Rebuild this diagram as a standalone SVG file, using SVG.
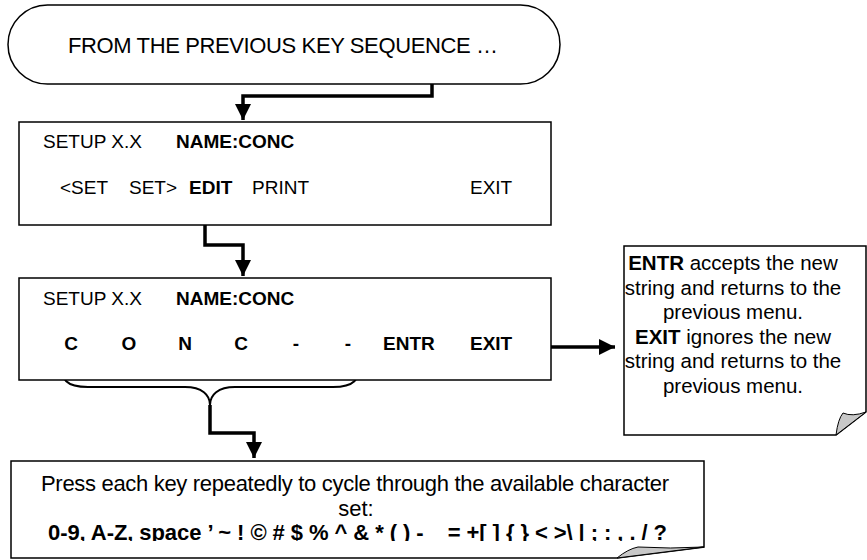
<svg xmlns="http://www.w3.org/2000/svg" width="867" height="560" viewBox="0 0 867 560">
<style>
.box{fill:#fff;stroke:#000;stroke-width:1.5}
.t{font-family:"Liberation Sans",Arial,sans-serif;font-size:19px;fill:#000}
.b{font-weight:bold}
.n{font-family:"Liberation Sans",Arial,sans-serif;font-size:20.5px;fill:#000;text-anchor:middle}
.w{font-family:"Liberation Sans",Arial,sans-serif;font-size:22px;fill:#000}
.c{fill:none;stroke:#000;stroke-width:3.5}
.curl{fill:#c8c8c8;stroke:#000;stroke-width:1}
</style>
<defs>
<marker id="ah" markerUnits="userSpaceOnUse" markerWidth="18" markerHeight="18" refX="16" refY="8" orient="auto">
<path d="M0,0 L16,8 L0,16 Z" fill="#000"/>
</marker>
<clipPath id="clipBottom"><rect x="11" y="461" width="693" height="80"/></clipPath>
</defs>
<rect width="867" height="560" fill="#fff"/>
<g id="connectors">
<path class="c" d="M432,65 V96 H243 V120" marker-end="url(#ah)"/>
<path class="c" d="M205,200 V245 H243 V276" marker-end="url(#ah)"/>
<path class="c" d="M535,347 H615" marker-end="url(#ah)"/>
<path fill="none" stroke="#000" stroke-width="2" d="M61,362 C61,380 66,387 88,387 H185 C202,387 210,395 210,405 C210,395 218,387 235,387 H333 C354,387 360,380 360,362"/>
<path class="c" d="M210,405 V433 H254 V458" marker-end="url(#ah)"/>
</g>
<g id="start">
<rect class="box" x="8" y="5" width="552" height="79" rx="39.5" ry="39.5"/>
<text class="w" x="68" y="53" textLength="430" lengthAdjust="spacing">FROM THE PREVIOUS KEY SEQUENCE …</text>
</g>
<g id="menu1">
<rect class="box" x="19" y="122" width="532" height="103"/>
<text class="t" x="43" y="148">SETUP X.X</text>
<text class="t b" x="176" y="148">NAME:CONC</text>
<text class="t" x="60" y="194">&lt;SET</text>
<text class="t" x="129" y="194">SET&gt;</text>
<text class="t b" x="189" y="194">EDIT</text>
<text class="t" x="252" y="194">PRINT</text>
<text class="t" x="470" y="194">EXIT</text>
</g>
<g id="menu2">
<rect class="box" x="19" y="278" width="532" height="102"/>
<text class="t" x="43" y="305">SETUP X.X</text>
<text class="t b" x="176" y="305">NAME:CONC</text>
<text class="t b" x="71" y="350" text-anchor="middle">C</text>
<text class="t b" x="129" y="350" text-anchor="middle">O</text>
<text class="t b" x="185" y="350" text-anchor="middle">N</text>
<text class="t b" x="241" y="350" text-anchor="middle">C</text>
<text class="t b" x="296" y="350" text-anchor="middle">-</text>
<text class="t b" x="348" y="350" text-anchor="middle">-</text>
<text class="t b" x="383" y="350">ENTR</text>
<text class="t b" x="470" y="350">EXIT</text>
</g>
<g id="note">
<path class="box" d="M624,246 H866 V412 L836,435 H624 Z"/>
<path class="curl" d="M836,435 Q838,419 843,413 Q852,417 866,412 Z"/>
<text class="n" x="733" y="270"><tspan font-weight="bold">ENTR</tspan> accepts the new</text>
<text class="n" x="733" y="294.5">string and returns to the</text>
<text class="n" x="733" y="319">previous menu.</text>
<text class="n" x="733" y="343.5"><tspan font-weight="bold">EXIT</tspan> ignores the new</text>
<text class="n" x="733" y="368">string and returns to the</text>
<text class="n" x="733" y="392.5">previous menu.</text>
</g>
<g id="charset">
<path class="box" d="M11,461 H704 V547 L617,558 H11 Z"/>
<path class="curl" d="M617,558 Q628,549 638,547 Q670,549 704,547 Z"/>
<text class="w" x="41" y="491" textLength="628" lengthAdjust="spacing">Press each key repeatedly to cycle through the available character</text>
<text class="w" x="356" y="515.5" text-anchor="middle">set:</text>
<text class="w b" x="48" y="540" textLength="619" lengthAdjust="spacing" clip-path="url(#clipBottom)">0-9, A-Z, space ’ ~ ! © # $ % ^ &amp; * ( ) - _ = +[ ] { } &lt; &gt;\ | ; : , . / ?</text>
</g>
</svg>
